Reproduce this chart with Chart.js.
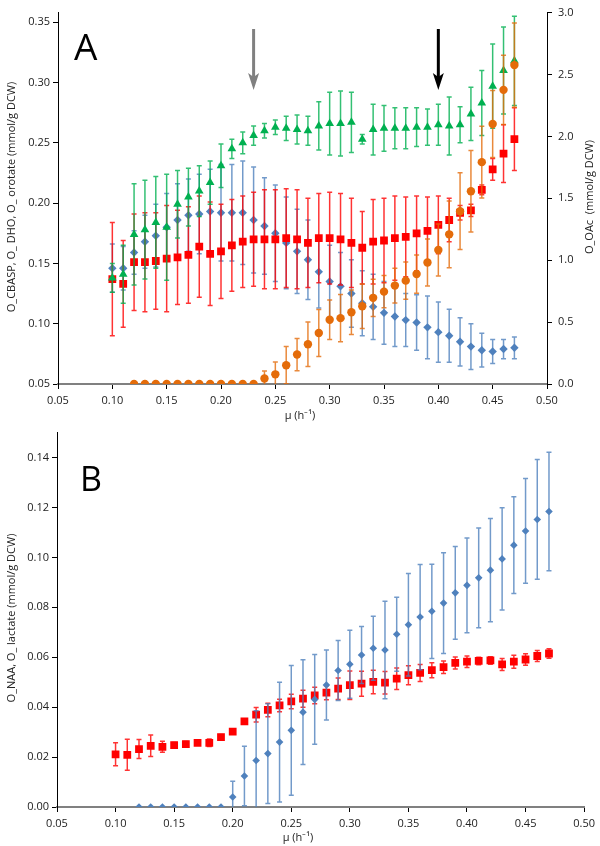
<!DOCTYPE html>
<html>
<head>
<meta charset="utf-8">
<script src="https://cdn.jsdelivr.net/npm/chart.js@4"></script>
<style>
  body { margin: 0; background: #fff; }
  #wrap { position: relative; width: 600px; height: 846px; }
  canvas { position: absolute; left: 0; }
</style>
</head>
<body>
<div id="wrap">
  <canvas id="chartA" width="600" height="423" style="top:0"></canvas>
  <canvas id="chartB" width="600" height="423" style="top:423px"></canvas>
</div>
<script>
// growth rate (h-1), same for both panels
const mu = [0.10, 0.11, 0.12, 0.13, 0.14, 0.15, 0.16, 0.17, 0.18, 0.19,
            0.20, 0.21, 0.22, 0.23, 0.24, 0.25, 0.26, 0.27, 0.28, 0.29,
            0.30, 0.31, 0.32, 0.33, 0.34, 0.35, 0.36, 0.37, 0.38, 0.39,
            0.40, 0.41, 0.42, 0.43, 0.44, 0.45, 0.46, 0.47];

const xTicks = [0.05, 0.10, 0.15, 0.20, 0.25, 0.30, 0.35, 0.40, 0.45, 0.50];
const yTicksA = [0.05, 0.10, 0.15, 0.20, 0.25, 0.30, 0.35];
const yTicksOAc = [0.0, 0.5, 1.0, 1.5, 2.0, 2.5, 3.0];
const yTicksB = [0.00, 0.02, 0.04, 0.06, 0.08, 0.10, 0.12, 0.14];

// arrows in panel A (mu)
const arrowsMu = [0.23, 0.40];

// panel A, left axis (mmol/g DCW)
const cbasp = [0.146, 0.146, 0.159, 0.168, 0.173, 0.180, 0.186, 0.190, 0.191, 0.193,
               0.192, 0.192, 0.192, 0.186, 0.181, 0.175, 0.167, 0.160, 0.153, 0.143,
               0.135, 0.131, 0.125, 0.117, 0.114, 0.109, 0.106, 0.103, 0.101, 0.097,
               0.093, 0.090, 0.085, 0.081, 0.078, 0.077, 0.079, 0.080];
const cbaspErr = [0.020, 0.018, 0.018, 0.022, 0.026, 0.028, 0.030, 0.030, 0.033, 0.035,
                  0.040, 0.040, 0.043, 0.044, 0.040, 0.040, 0.038, 0.035, 0.033, 0.030,
                  0.030, 0.028, 0.028, 0.027, 0.027, 0.026, 0.025, 0.022, 0.023, 0.026,
                  0.025, 0.022, 0.020, 0.019, 0.014, 0.010, 0.008, 0.009];

const dho = [0.137, 0.133, 0.151, 0.151, 0.152, 0.154, 0.155, 0.157, 0.164, 0.158,
             0.160, 0.165, 0.168, 0.170, 0.170, 0.170, 0.171, 0.170, 0.167, 0.171,
             0.171, 0.170, 0.167, 0.163, 0.168, 0.169, 0.171, 0.172, 0.175, 0.177,
             0.182, 0.186, 0.192, 0.194, 0.211, 0.228, 0.241, 0.253];
const dhoErr = [0.047, 0.036, 0.040, 0.041, 0.040, 0.044, 0.039, 0.040, 0.042, 0.043,
                0.039, 0.038, 0.038, 0.039, 0.041, 0.041, 0.041, 0.041, 0.037, 0.037,
                0.038, 0.038, 0.037, 0.030, 0.035, 0.035, 0.035, 0.033, 0.031, 0.028,
                0.024, 0.018, 0.006, 0.005, 0.004, 0.009, 0.024, 0.026];

const orotate = [0.138, 0.141, 0.174, 0.178, 0.184, 0.180, 0.199, 0.205, 0.210, 0.217,
                 0.231, 0.245, 0.250, 0.256, 0.260, 0.263, 0.262, 0.261, 0.260, 0.264,
                 0.266, 0.266, 0.267, 0.253, 0.261, 0.262, 0.262, 0.262, 0.263, 0.263,
                 0.265, 0.264, 0.265, 0.274, 0.283, 0.297, 0.310, 0.318];
const orotateErr = [0.012, 0.024, 0.042, 0.041, 0.038, 0.044, 0.028, 0.024, 0.021, 0.018,
                    0.018, 0.008, 0.009, 0.008, 0.006, 0.006, 0.010, 0.012, 0.012, 0.020,
                    0.026, 0.027, 0.025, 0.004, 0.021, 0.019, 0.017, 0.017, 0.016, 0.015,
                    0.017, 0.024, 0.015, 0.022, 0.027, 0.035, 0.036, 0.037];

// panel A, right axis
const oac = [null, null, 0, 0, 0, 0, 0, 0, 0, 0,
             0, 0, 0, 0, 0.045, 0.078, 0.152, 0.238, 0.321, 0.412,
             0.519, 0.532, 0.580, 0.628, 0.696, 0.746, 0.795, 0.835, 0.888, 0.982,
             1.083, 1.209, 1.396, 1.557, 1.792, 2.100, 2.376, 2.576];
const oacErr = [null, null, 0, 0, 0, 0, 0, 0, 0, 0,
                0, 0, 0, 0, 0.06, 0.10, 0.15, 0.13, 0.18, 0.19,
                0.16, 0.19, 0.18, 0.18, 0.15, 0.13, 0.14, 0.15, 0.155, 0.19,
                0.21, 0.27, 0.31, 0.33, 0.29, 0.27, 0.28, 0.34];

// panel B
const naa = [null, null, 0, 0, 0, 0, 0, 0, 0, 0,
             0.0040, 0.0124, 0.0186, 0.0214, 0.0260, 0.0307, 0.0380, 0.0431, 0.0489, 0.0547,
             0.0572, 0.0609, 0.0636, 0.0629, 0.0692, 0.0730, 0.0761, 0.0784, 0.0817, 0.0858,
             0.0888, 0.0918, 0.0949, 0.0994, 0.1049, 0.1106, 0.1152, 0.1184];
const naaErr = [null, null, 0, 0, 0, 0, 0, 0, 0, 0,
                0.0063, 0.0119, 0.020, 0.020, 0.024, 0.026, 0.021, 0.018, 0.014, 0.012,
                0.0136, 0.0114, 0.0128, 0.0195, 0.0148, 0.0205, 0.0211, 0.0189, 0.0202, 0.0186,
                0.019, 0.020, 0.0207, 0.0205, 0.0194, 0.021, 0.024, 0.0237];

const lactate = [0.0211, 0.0209, 0.0232, 0.0245, 0.0241, 0.0248, 0.0252, 0.0257, 0.0257, 0.0280,
                 0.0302, 0.0343, 0.0370, 0.0389, 0.0407, 0.0423, 0.0434, 0.0447, 0.0458, 0.0474,
                 0.0488, 0.0494, 0.0501, 0.0498, 0.0514, 0.0528, 0.0537, 0.0548, 0.0560, 0.0577,
                 0.0582, 0.0585, 0.0587, 0.0571, 0.0582, 0.0591, 0.0605, 0.0615];
const lactateErr = [0.0046, 0.0062, 0.0038, 0.0043, 0.0022, 0.001, 0.001, 0.001, 0.0015, 0.001,
                    0.001, 0.001, 0.0029, 0.0027, 0.0025, 0.0029, 0.0034, 0.0033, 0.0028, 0.0043,
                    0.0057, 0.0050, 0.0047, 0.0045, 0.0043, 0.0038, 0.0034, 0.0030, 0.0025, 0.0024,
                    0.0023, 0.0015, 0.0015, 0.0024, 0.0026, 0.0023, 0.0022, 0.0019];

const BLUE = 'rgb(79,129,189)';
const RED = 'rgb(255,0,0)';
const GREEN = 'rgb(0,176,80)';
const ORANGE = 'rgb(228,108,10)';

Chart.defaults.font.family = '"Open Sans", sans-serif';
Chart.defaults.font.size = 11;
Chart.defaults.color = '#222';

function pts(xs, ys) {
    return xs.map((x, i) => ({ x: x, y: ys[i] }));
}

// error bars drawn right before each series so markers sit on top
const errorBars = {
    id: 'errorBars',
    beforeDatasetDraw(chart, args) {
        const ds = chart.data.datasets[args.index];
        if (!ds.err) return;
        const ys = chart.scales[ds.yAxisID];
        const ctx = chart.ctx;
        const area = chart.chartArea;
        ctx.save();
        ctx.beginPath();
        ctx.rect(area.left, area.top - 2, area.right - area.left, area.bottom - area.top + 2);
        ctx.clip();
        ctx.strokeStyle = ds.errColor;
        ctx.lineWidth = 1.5;
        args.meta.data.forEach((pt, i) => {
            const v = ds.data[i].y;
            const e = ds.err[i];
            if (v == null || !e) return;
            const top = ys.getPixelForValue(v + e);
            const bot = ys.getPixelForValue(v - e);
            ctx.beginPath();
            ctx.moveTo(pt.x, top); ctx.lineTo(pt.x, bot);
            ctx.moveTo(pt.x - 2.5, top); ctx.lineTo(pt.x + 2.5, top);
            ctx.moveTo(pt.x - 2.5, bot); ctx.lineTo(pt.x + 2.5, bot);
            ctx.stroke();
        });
        ctx.restore();
    }
};

// axis titles, panel letter, arrows
const decorations = {
    id: 'decorations',
    afterDraw(chart, args, opts) {
        const ctx = chart.ctx;
        ctx.save();
        ctx.fillStyle = '#222';
        ctx.font = '11px "Open Sans", sans-serif';
        ctx.textAlign = 'center';
        ctx.textBaseline = 'middle';
        ctx.fillText('\u03bc (h\u207b\u00b9)', opts.xTitle[0], opts.xTitle[1]);
        opts.yTitles.forEach(t => {
            ctx.save();
            ctx.translate(t.x, t.y);
            ctx.rotate(-Math.PI / 2);
            ctx.fillText(t.text, 0, 0);
            ctx.restore();
        });
        ctx.fillStyle = '#000';
        ctx.font = opts.letterFont;
        ctx.textAlign = 'left';
        ctx.textBaseline = 'alphabetic';
        ctx.fillText(opts.letter[0], opts.letter[1], opts.letter[2]);
        (opts.arrows || []).forEach(a => {
            const x = chart.scales.x.getPixelForValue(a.mu);
            ctx.strokeStyle = a.color;
            ctx.fillStyle = a.color;
            ctx.lineWidth = 3;
            ctx.beginPath();
            ctx.moveTo(x, 29); ctx.lineTo(x, 78);
            ctx.stroke();
            ctx.beginPath();
            ctx.moveTo(x - 5.5, 73);
            ctx.lineTo(x, 90);
            ctx.lineTo(x + 5.5, 73);
            ctx.lineTo(x, 77);
            ctx.closePath();
            ctx.fill();
        });
        ctx.restore();
    }
};

function xScale(rightPad) {
    return {
        type: 'linear', min: 0.05, max: 0.5,
        afterBuildTicks: s => { s.ticks = xTicks.map(v => ({ value: v })); },
        ticks: { callback: v => v.toFixed(2), padding: 5, maxRotation: 0, autoSkip: false },
        grid: { drawOnChartArea: false, drawTicks: true, tickLength: 5, color: '#000' },
        border: { color: '#808080', width: 2 },
        afterFit: s => { s.height = 39; }
    };
}

function series(label, data, err, axis, style, radius, color, errColor) {
    return {
        label: label, data: data, err: err, yAxisID: axis,
        showLine: false, pointStyle: style, pointRadius: radius,
        backgroundColor: color, borderColor: color, borderWidth: 0,
        errColor: errColor
    };
}

new Chart(document.getElementById('chartA'), {
    type: 'scatter',
    data: {
        datasets: [
            series('O_OAc', pts(mu, oac), oacErr, 'y2', 'circle', 4.2, ORANGE, 'rgba(228,108,10,0.8)'),
            series('O_orotate', pts(mu, orotate), orotateErr, 'y', 'triangle', 5, GREEN, 'rgba(0,176,80,0.8)'),
            series('O_DHO', pts(mu, dho), dhoErr, 'y', 'rect', 5.5, RED, 'rgba(255,0,0,0.8)'),
            series('O_CBASP', pts(mu, cbasp), cbaspErr, 'y', 'rectRot', 4.2, BLUE, 'rgba(79,129,189,0.8)')
        ]
    },
    options: {
        responsive: false, animation: false, devicePixelRatio: 1,
        layout: { padding: { top: 3.4, right: 0, left: 0, bottom: 0 } },
        plugins: {
            legend: { display: false }, tooltip: { enabled: false },
            decorations: {
                xTitle: [300, 416],
                yTitles: [
                    { text: 'O_CBASP, O_ DHO, O_ orotate (mmol/g DCW)', x: 12, y: 197 },
                    { text: 'O_OAc  (mmol/g DCW)', x: 590, y: 197 }
                ],
                letter: ['A', 74, 60], letterFont: '37px "Open Sans", sans-serif',
                arrows: [{ mu: arrowsMu[0], color: '#808080' }, { mu: arrowsMu[1], color: '#000' }]
            }
        },
        scales: {
            x: xScale(),
            y: {
                position: 'left', min: 0.05, max: 0.358,
                afterBuildTicks: s => { s.ticks = yTicksA.map(v => ({ value: v })); },
                ticks: { callback: v => v.toFixed(2), padding: 3 },
                grid: { drawOnChartArea: false, tickLength: 5, color: '#000' },
                border: { color: '#000', width: 1 },
                afterFit: s => { s.width = 58; }
            },
            y2: {
                position: 'right', min: 0, max: 3,
                afterBuildTicks: s => { s.ticks = yTicksOAc.map(v => ({ value: v })); },
                ticks: { callback: v => v.toFixed(1), padding: 6 },
                grid: { drawOnChartArea: false, tickLength: 5, color: '#000' },
                border: { color: '#000', width: 1 },
                afterFit: s => { s.width = 53; }
            }
        }
    },
    plugins: [errorBars, decorations]
});

new Chart(document.getElementById('chartB'), {
    type: 'scatter',
    data: {
        datasets: [
            series('O_NAA', pts(mu, naa), naaErr, 'y', 'rectRot', 3.8, BLUE, 'rgba(79,129,189,0.8)'),
            series('O_lactate', pts(mu, lactate), lactateErr, 'y', 'rect', 5.5, RED, 'rgba(255,0,0,0.8)')
        ]
    },
    options: {
        responsive: false, animation: false, devicePixelRatio: 1,
        layout: { padding: { top: 3.4, right: 7, left: 0, bottom: 0 } },
        plugins: {
            legend: { display: false }, tooltip: { enabled: false },
            decorations: {
                xTitle: [298, 415],
                yTitles: [
                    { text: 'O_NAA, O_ lactate (mmol/g DCW)', x: 12, y: 195 }
                ],
                letter: ['B', 80, 68], letterFont: '34px "Open Sans", sans-serif'
            }
        },
        scales: {
            x: xScale(),
            y: {
                position: 'left', min: 0, max: 0.15,
                afterBuildTicks: s => { s.ticks = yTicksB.map(v => ({ value: v })); },
                ticks: { callback: v => v.toFixed(2), padding: 3 },
                grid: { drawOnChartArea: false, tickLength: 5, color: '#000' },
                border: { color: '#000', width: 1 },
                afterFit: s => { s.width = 57; }
            }
        }
    },
    plugins: [errorBars, decorations]
});
</script>
</body>
</html>
